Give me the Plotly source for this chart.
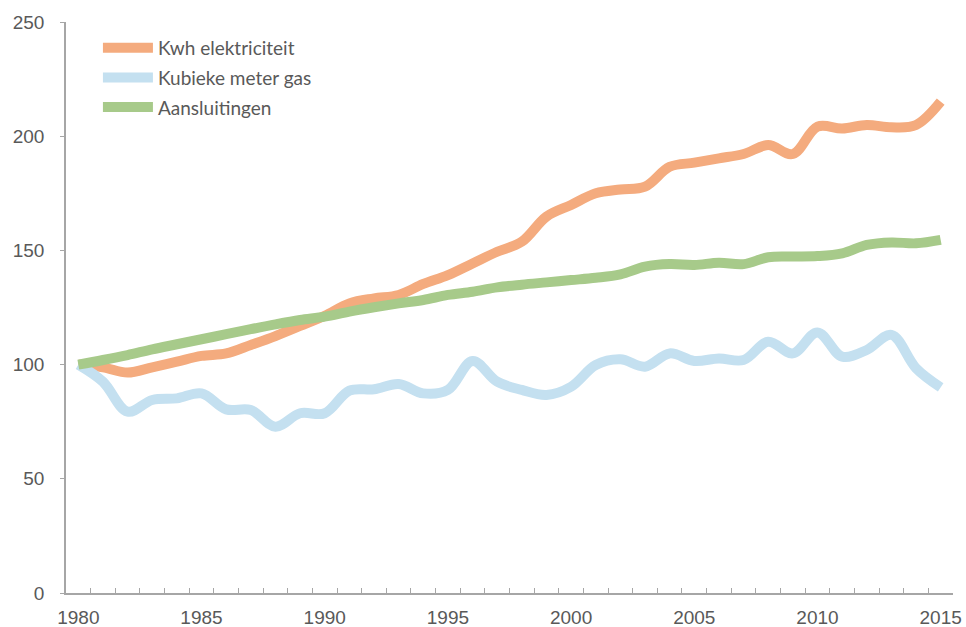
import plotly.graph_objects as go

# Index 1980 = 100
years = list(range(1980, 2016))

kwh_elektriciteit = [
    100.0, 98.8, 96.5, 98.8, 101.3, 103.8, 104.9, 108.6, 112.5, 116.9,
    121.4, 126.8, 129.0, 130.5, 135.3, 139.2, 144.3, 149.4, 153.8, 164.8,
    169.9, 175.0, 176.7, 177.9, 186.6, 188.4, 190.3, 192.2, 196.1, 192.2,
    204.2, 203.4, 204.9, 203.9, 204.9, 215.1,
]
kubieke_meter_gas = [
    100.0, 92.5, 79.4, 84.5, 85.2, 87.4, 80.4, 80.1, 72.8, 78.7,
    78.7, 88.6, 89.2, 91.5, 87.4, 88.9, 101.6, 92.5, 88.9, 86.7,
    90.3, 99.8, 102.3, 99.1, 104.9, 101.6, 102.7, 102.0, 110.0, 104.9,
    114.1, 103.5, 106.4, 113.0, 98.4, 90.0,
]
aansluitingen = [
    100.0, 102.0, 104.2, 106.7, 108.9, 111.1, 113.3, 115.5, 117.6, 119.5,
    121.0, 123.2, 125.1, 126.8, 128.3, 130.5, 131.9, 133.8, 135.0, 136.0,
    137.0, 138.0, 139.5, 142.9, 144.0, 143.6, 144.6, 144.0, 147.0, 147.3,
    147.5, 148.7, 152.4, 153.5, 153.1, 154.6,
]

series = [
    ("Kwh elektriciteit", kwh_elektriciteit, "#F4AB7E"),
    ("Kubieke meter gas", kubieke_meter_gas, "#C4E0F0"),
    ("Aansluitingen", aansluitingen, "#A7CA8A"),
]

fig = go.Figure()
for name, values, color in series:
    fig.add_trace(go.Scatter(
        x=years, y=values, name=name, mode="lines", legendgroup=name,
        line=dict(color=color, width=10, shape="spline", smoothing=1.0),
    ))

axis_grey = "#A6A6A6"
tick_font = dict(family="Liberation Sans Narrow, Liberation Sans, Arial", size=19, color="#595959")

fig.update_layout(
    width=966, height=627,
    margin=dict(l=66, r=13, t=22, b=34),
    plot_bgcolor="white", paper_bgcolor="white",
    showlegend=True,
    legend=dict(
        x=0.036, y=0.988, xanchor="left", yanchor="top",
        font=dict(family="Lato, Open Sans, sans-serif", size=19, color="#595959"),
        bgcolor="rgba(0,0,0,0)", tracegroupgap=2, itemwidth=50,
    ),
)
fig.update_xaxes(
    range=[1979.5, 2015.5], automargin=False,
    tickvals=[1980, 1985, 1990, 1995, 2000, 2005, 2010, 2015],
    ticks="inside", ticklen=0, ticklabelstandoff=6,
    minor=dict(tick0=1979.5, dtick=1, ticks="inside", ticklen=5, tickcolor=axis_grey, showgrid=False),
    showline=True, linecolor=axis_grey, linewidth=1.5,
    showgrid=False, zeroline=False, tickfont=tick_font,
)
fig.update_yaxes(
    range=[0, 250], dtick=50, automargin=False,
    ticks="outside", ticklen=4, tickcolor=axis_grey, ticklabelstandoff=12,
    showline=True, linecolor=axis_grey, linewidth=1.5,
    showgrid=False, zeroline=False, tickfont=tick_font,
)

# drop the default body margin so the page is exactly the figure size (no scrollbars)
fig.write_html(
    "out.html",
    config={"displayModeBar": False},
    post_script="document.body.style.margin = '0';",
)
